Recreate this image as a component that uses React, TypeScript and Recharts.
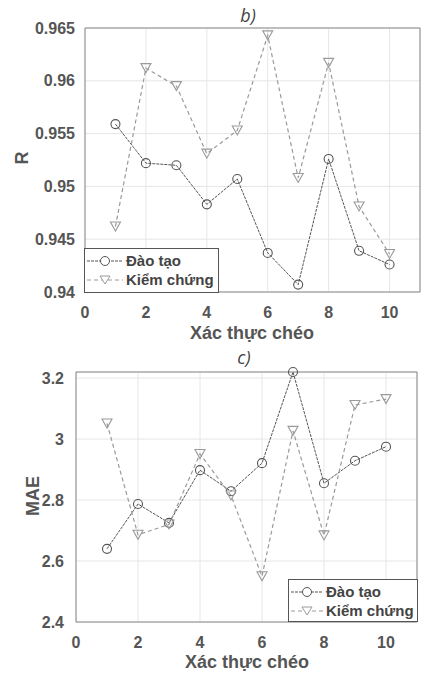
import React from 'react';
import { LineChart, Line, XAxis, YAxis, CartesianGrid, ReferenceArea } from 'recharts';

const folds = [1, 2, 3, 4, 5, 6, 7, 8, 9, 10];
const rTrain = [0.9559, 0.9522, 0.952, 0.9483, 0.9507, 0.9437, 0.9407, 0.9526, 0.9439, 0.9426];
const rValid = [0.9462, 0.9612, 0.9595, 0.9531, 0.9553, 0.9643, 0.9508, 0.9617, 0.9481, 0.9436];
const maeTrain = [2.64, 2.787, 2.725, 2.898, 2.829, 2.921, 3.22, 2.855, 2.929, 2.975];
const maeValid = [3.051, 2.686, 2.72, 2.951, 2.815, 2.55, 3.027, 2.684, 3.112, 3.131];
const xTicks = [0, 2, 4, 6, 8, 10];
const rTicks = [0.94, 0.945, 0.95, 0.955, 0.96, 0.965];
const maeTicks = [2.4, 2.6, 2.8, 3, 3.2];
const seriesNames = ['Đào tạo', 'Kiểm chứng'];
const xLabel = 'Xác thực chéo';

const rData = folds.map((f, i) => ({ fold: f, train: rTrain[i], valid: rValid[i] }));
const maeData = folds.map((f, i) => ({ fold: f, train: maeTrain[i], valid: maeValid[i] }));

const FONT = '"Liberation Sans", Arial, sans-serif';
const TRAIN_C = '#555';
const VALID_C = '#9a9a9a';

const TriDown = (p: any) => {
  const { cx, cy } = p;
  if (cx == null || cy == null) return <g key={p.index} />;
  const w = 5, h = 4.5;
  return (
    <path
      key={p.index}
      d={`M${cx - w},${cy - h} L${cx + w},${cy - h} L${cx},${cy + h} Z`}
      fill="none"
      stroke={VALID_C}
      strokeWidth={1.1}
    />
  );
};

const tickStyle = { fontFamily: FONT, fontSize: 16, fontWeight: 700, fill: '#555' };

const LegendBox = ({ left, top, width, height, sym }: any) => (
  <div
    style={{
      position: 'absolute', left, top, width, height, border: '1px solid #555',
      background: '#fff', boxSizing: 'border-box', fontFamily: FONT, fontWeight: 700,
      fontSize: 15, color: '#444', whiteSpace: 'nowrap',
    }}
  >
    <div style={{ position: 'absolute', left: 1, top: 3, display: 'flex', alignItems: 'center', lineHeight: '17px' }}>
      <svg width={sym} height={14}>
        <line x1={1} y1={7} x2={sym - 1} y2={7} stroke={TRAIN_C} strokeDasharray="3 1" />
        <circle cx={sym / 2} cy={7} r={4.5} fill="#fff" stroke={TRAIN_C} />
      </svg>
      <span style={{ marginLeft: 2 }}>{seriesNames[0]}</span>
    </div>
    <div style={{ position: 'absolute', left: 1, top: 22, display: 'flex', alignItems: 'center', lineHeight: '17px' }}>
      <svg width={sym} height={14}>
        <line x1={1} y1={7} x2={sym - 1} y2={7} stroke={VALID_C} strokeDasharray="4 3" />
        <path d={`M${sym / 2 - 5},3 L${sym / 2 + 5},3 L${sym / 2},11 Z`} fill="#fff" stroke={VALID_C} />
      </svg>
      <span style={{ marginLeft: 2 }}>{seriesNames[1]}</span>
    </div>
  </div>
);

const abs = (extra: any) => ({ position: 'absolute' as const, ...extra });

const axisTitle = { fontFamily: FONT, fontWeight: 700, fontSize: 18, color: '#555', lineHeight: '22px', whiteSpace: 'nowrap' as const };

export default function App() {
  return (
    <div style={{ position: 'absolute', left: 0, top: 0, width: 425, height: 674, background: '#fff', overflow: 'hidden' }}>
      <div style={abs({ left: 0, top: 0 })}>
        <LineChart width={425} height={340} data={rData} margin={{ top: 28, right: 5, left: 25, bottom: 18 }}>
          <CartesianGrid stroke="#e6e6e6" />
          <XAxis dataKey="fold" type="number" domain={[0, 11]} ticks={xTicks} height={30}
            tick={tickStyle} tickLine={false} axisLine={false} tickMargin={9} interval={0} />
          <YAxis type="number" domain={[0.94, 0.965]} ticks={rTicks} width={60}
            tick={tickStyle} tickLine={false} axisLine={false} tickMargin={4} interval={0} />
          <ReferenceArea x1={0} x2={11} y1={0.94} y2={0.965} fill="none" stroke="#888" strokeWidth={1} ifOverflow="visible" />
          <Line dataKey="train" stroke={TRAIN_C} strokeWidth={1} strokeDasharray="3 1" isAnimationActive={false}
            dot={{ r: 4.5, fill: 'none', stroke: TRAIN_C, strokeWidth: 1.1, strokeDasharray: '' }} />
          <Line dataKey="valid" stroke={VALID_C} strokeWidth={1.2} strokeDasharray="4 3" isAnimationActive={false}
            dot={(p: any) => <TriDown key={p.index} {...p} />} />
        </LineChart>
      </div>
      <div style={abs({ left: 0, top: 340 })}>
        <LineChart width={425} height={334} data={maeData} margin={{ top: 32, right: 8, left: 16, bottom: 22 }}>
          <CartesianGrid stroke="#e6e6e6" />
          <XAxis dataKey="fold" type="number" domain={[0, 11]} ticks={xTicks} height={30}
            tick={tickStyle} tickLine={false} axisLine={false} tickMargin={9} interval={0} />
          <YAxis type="number" domain={[2.4, 3.22]} ticks={maeTicks} width={60}
            tick={tickStyle} tickLine={false} axisLine={false} tickMargin={6} interval={0} />
          <ReferenceArea x1={0} x2={11} y1={2.4} y2={3.22} fill="none" stroke="#888" strokeWidth={1} ifOverflow="visible" />
          <Line dataKey="train" stroke={TRAIN_C} strokeWidth={1} strokeDasharray="3 1" isAnimationActive={false}
            dot={{ r: 4.5, fill: 'none', stroke: TRAIN_C, strokeWidth: 1.1, strokeDasharray: '' }} />
          <Line dataKey="valid" stroke={VALID_C} strokeWidth={1.2} strokeDasharray="4 3" isAnimationActive={false}
            dot={(p: any) => <TriDown key={p.index} {...p} />} />
        </LineChart>
      </div>

      <div style={abs({ left: 230, top: 3, width: 36, textAlign: 'center', fontFamily: '"Open Sans", sans-serif', fontStyle: 'italic', fontSize: 18, color: '#444', lineHeight: '24px' })}>b)</div>
      <div style={abs({ left: 226, top: 345, width: 36, textAlign: 'center', fontFamily: '"Open Sans", sans-serif', fontStyle: 'italic', fontSize: 18, color: '#444', lineHeight: '24px' })}>c)</div>

      <div style={abs({ left: 152, top: 322, width: 200, textAlign: 'center', ...axisTitle })}>{xLabel}</div>
      <div style={abs({ left: 147, top: 651, width: 200, textAlign: 'center', ...axisTitle })}>{xLabel}</div>

      <div style={abs({ left: 22, top: 158, width: 0, height: 0 })}>
        <div style={{ position: 'absolute', left: -20, top: -11, width: 40, textAlign: 'center', transform: 'rotate(-90deg)', ...axisTitle }}>R</div>
      </div>
      <div style={abs({ left: 33, top: 496, width: 0, height: 0 })}>
        <div style={{ position: 'absolute', left: -30, top: -11, width: 60, textAlign: 'center', transform: 'rotate(-90deg)', ...axisTitle }}>MAE</div>
      </div>

      <LegendBox left={84} top={248} width={135} height={45} sym={38} />
      <LegendBox left={288} top={579} width={130} height={43} sym={34} />
    </div>
  );
}
